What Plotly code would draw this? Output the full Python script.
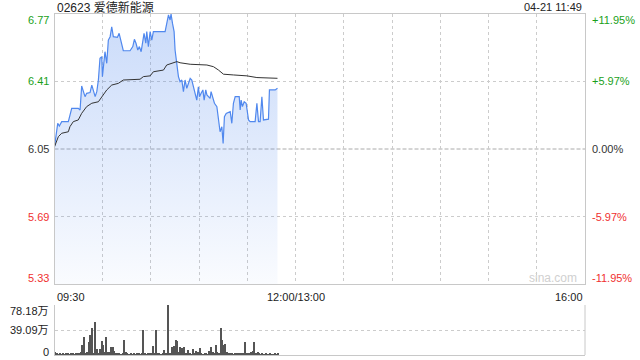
import plotly.graph_objects as go

# ---------------- data ----------------
title_text = "02623 爱德新能源"
stamp_text = "04-21 11:49"

# minutes after 09:30 (trading clock, lunch break removed)
price_min = [0, 2, 3, 4.5, 8.6, 9.6, 10.7, 14.8, 15.9, 16.9, 17.9, 19, 20, 22.1, 23.2, 24.2, 25.3, 26.3, 27.3,
             28.3, 29.4, 29.8, 30.8, 31.4, 32.5, 33.5, 34.6, 35.6, 36.6, 39.1, 40.2, 41.2, 42.8, 47, 48.7, 49.7,
             50.7, 51.8, 52.8, 53.9, 54.9, 55.7, 56.8, 57.4, 58.4, 59.5, 60.5, 61.5, 68.8, 69.8, 70.9, 71.9, 72.5,
             73.4, 74.4, 75, 76.1, 77.1, 78.1, 79.2, 80.2, 81.2, 82.3, 83.3, 84.4, 85.4, 86.4, 87.5, 88.5, 89.5,
             90.2, 91.2, 92.3, 93.1, 94.1, 94.8, 95.8, 96.8, 97.4, 98.5, 99.5, 101, 102, 103, 104.1, 104.9, 105.7,
             106.8, 109.3, 110.3, 111.3, 112.4, 114.9, 115.5, 116.1, 116.9, 118, 119.2, 120.7, 121.7, 124.8,
             125.9, 126.9, 127.9, 129, 130, 133.1, 133.7, 137.3, 138.7]
price = [6.062, 6.187, 6.173, 6.196, 6.196, 6.231, 6.267, 6.267, 6.258, 6.386, 6.356, 6.329, 6.347, 6.351,
         6.391, 6.356, 6.329, 6.356, 6.418, 6.534, 6.542, 6.436, 6.551, 6.569, 6.507, 6.631, 6.649, 6.702,
         6.649, 6.645, 6.667, 6.631, 6.574, 6.574, 6.596, 6.635, 6.614, 6.578, 6.596, 6.569, 6.631, 6.667,
         6.614, 6.676, 6.596, 6.676, 6.631, 6.676, 6.676, 6.729, 6.765, 6.738, 6.77, 6.72, 6.676, 6.578,
         6.507, 6.436, 6.409, 6.418, 6.356, 6.418, 6.374, 6.400, 6.427, 6.418, 6.382, 6.347, 6.311, 6.382,
         6.329, 6.347, 6.365, 6.311, 6.365, 6.338, 6.329, 6.320, 6.356, 6.329, 6.294, 6.276, 6.205, 6.142,
         6.169, 6.080, 6.222, 6.240, 6.249, 6.187, 6.294, 6.329, 6.329, 6.258, 6.311, 6.276, 6.302, 6.294,
         6.205, 6.196, 6.196, 6.294, 6.196, 6.196, 6.329, 6.205, 6.209, 6.365, 6.365, 6.374]

avg_min = [0, 2.4, 4.5, 8.6, 9.6, 11.7, 14.8, 16.9, 20, 23.2, 27.3, 29.4, 32.5, 35.6, 39.7, 42.8, 53.2, 55.3,
           59.5, 61.5, 67.8, 69.8, 73, 76.1, 78.1, 84.4, 94.8, 98.9, 102, 105.1, 111.3, 119.7, 125.9, 136.2, 138.7]
avg_price = [6.062, 6.116, 6.134, 6.142, 6.169, 6.196, 6.205, 6.240, 6.276, 6.294, 6.302, 6.329, 6.365, 6.391,
             6.400, 6.418, 6.422, 6.436, 6.440, 6.462, 6.471, 6.498, 6.507, 6.516, 6.51, 6.502, 6.498, 6.489,
             6.471, 6.449, 6.445, 6.440, 6.431, 6.427, 6.427]

# volume per minute, in 万 shares, minutes 0..139
volume = [5, 2, 1, 2, 1, 2, 1, 2, 2, 1, 3, 2, 1, 2, 2, 3,
          4, 15, 28, 3, 5, 20, 31, 42, 3, 52, 9, 3, 10, 22, 15, 4, 28, 4, 5, 12.5, 12.5, 6, 2, 2,
          3, 1, 2, 23.5, 5, 2, 1, 2, 1, 2, 1, 2, 2, 1, 2, 39, 2, 1, 2, 3,
          2, 14, 2, 39, 3, 2, 1, 2, 8, 2, 78.18, 3, 2, 12.5, 14, 23.5, 22, 4, 12.5, 11.5,
          12.5, 3, 2, 8, 2, 1, 9, 3, 6, 5, 10.4, 2, 1, 2, 2, 1, 6, 12.5, 4, 2,
          15.6, 5, 3, 42, 23.5, 15, 16.7, 4, 2, 3, 2, 1, 2, 3, 2, 2, 3, 2, 20, 3,
          3, 2, 4, 6, 20, 3, 5, 2, 1, 2, 1, 2, 1, 1, 2, 1, 1, 2, 1, 2]
vol_min = list(range(len(volume)))

price_ticks = [6.77, 6.41, 6.05, 5.69, 5.33]
price_tick_text = ["6.77", "6.41", "6.05", "5.69", "5.33"]
pct_tick_text = ["+11.95%", "+5.97%", "0.00%", "-5.97%", "-11.95%"]
tick_colors = ["#1a9f1a", "#1a9f1a", "#333333", "#f03030", "#f03030"]
vol_ticks = [78.18, 39.09, 0]
vol_tick_text = ["78.18万", "39.09万", "0"]
time_ticks = [0, 150, 330]
time_tick_text = ["09:30", "12:00/13:00", "16:00"]
grid_minutes = [30, 60, 90, 120, 150, 180, 210, 240, 270, 300]
prev_close = 6.05

# ---------------- layout helpers ----------------
W, H = 640, 360
PX_L, PX_R = 54.5, 585.0
P_TOP, P_BOT = 14.0, 284.0
V_TOP, V_BOT = 305.0, 355.0
FONT = "Liberation Sans, Arial, Noto Sans CJK SC, sans-serif"
GRID = "#cccccc"
BORDER = "#c8c8c8"


def fx(px):
    return px / W


def fy(py):
    return 1 - py / H


fig = go.Figure()

fig.add_trace(go.Scatter(
    x=price_min, y=price, mode="lines",
    line=dict(color="#5088ee", width=1.2),
    fill="tozeroy",
    fillgradient=dict(type="vertical", start=5.33, stop=6.77,
                      colorscale=[[0, "rgba(80,136,238,0.03)"], [0.6, "rgba(80,136,238,0.2)"],
                                  [1, "rgba(80,136,238,0.3)"]]),
    xaxis="x", yaxis="y", hoverinfo="skip", showlegend=False))

fig.add_trace(go.Scatter(
    x=avg_min, y=avg_price, mode="lines",
    line=dict(color="#333333", width=1),
    xaxis="x", yaxis="y", hoverinfo="skip", showlegend=False))

fig.add_trace(go.Bar(
    x=vol_min, y=volume, width=0.62,
    marker=dict(color="#555555", line=dict(width=0)),
    xaxis="x2", yaxis="y2", hoverinfo="skip", showlegend=False))

# previous close dashed line
fig.add_shape(type="line", xref="x", yref="y", x0=0, x1=330, y0=prev_close, y1=prev_close,
              line=dict(color="#aaaaaa", width=1, dash="4px,2px"), layer="below")

ann = []
ann.append(dict(text=title_text, x=fx(55), y=fy(7), xref="paper", yref="paper",
                xanchor="left", yanchor="middle", showarrow=False,
                font=dict(family=FONT, size=12, color="#222222")))
ann.append(dict(text=stamp_text, x=fx(584), y=fy(7), xref="paper", yref="paper",
                xanchor="right", yanchor="middle", showarrow=False,
                font=dict(family=FONT, size=11, color="#222222")))
n = len(price_ticks)
for i, (v, t, p, c) in enumerate(zip(price_ticks, price_tick_text, pct_tick_text, tick_colors)):
    shift = -6 if i == 0 else (6 if i == n - 1 else 0)
    ann.append(dict(text=t, x=fx(51), y=v, xref="paper", yref="y", yshift=shift,
                    xanchor="right", yanchor="middle", showarrow=False,
                    font=dict(family=FONT, size=11, color=c)))
    ann.append(dict(text=p, x=fx(590), y=v, xref="paper", yref="y", yshift=shift,
                    xanchor="left", yanchor="middle", showarrow=False,
                    font=dict(family=FONT, size=11, color=c)))
anchors = ["left", "center", "right"]
for v, t, a in zip(time_ticks, time_tick_text, anchors):
    ann.append(dict(text=t, x=v, y=fy(297), xref="x", yref="paper",
                    xanchor=a, yanchor="middle", showarrow=False,
                    font=dict(family=FONT, size=11, color="#222222")))
vshift = [-6, 0, 3]
for v, t, s in zip(vol_ticks, vol_tick_text, vshift):
    ann.append(dict(text=t, x=fx(51), y=v, xref="paper", yref="y2", yshift=s,
                    xanchor="right", yanchor="middle", showarrow=False,
                    font=dict(family=FONT, size=11, color="#222222")))
ann.append(dict(text="sina.com", x=fx(579), y=fy(278), xref="paper", yref="paper",
                xanchor="right", yanchor="middle", showarrow=False,
                font=dict(family=FONT, size=12, color="#d0d0d0")))

fig.update_layout(
    width=W, height=H, autosize=False,
    margin=dict(l=0, r=0, t=0, b=0, pad=0),
    paper_bgcolor="white", plot_bgcolor="white",
    annotations=ann,
    bargap=0,
    xaxis=dict(domain=[fx(PX_L), fx(PX_R)], range=[0, 330], tickvals=grid_minutes,
               showticklabels=False, ticks="", showgrid=True, gridcolor=GRID, griddash="dot",
               gridwidth=1, showline=True, mirror=True, linecolor=BORDER, linewidth=1,
               zeroline=False, fixedrange=True),
    yaxis=dict(domain=[fy(P_BOT), fy(P_TOP)], range=[5.33, 6.77], tickvals=[6.41, 5.69],
               showticklabels=False, ticks="", showgrid=True, gridcolor=GRID, griddash="dot",
               showline=True, mirror=True, linecolor=BORDER, linewidth=1, zeroline=False,
               fixedrange=True),
    xaxis2=dict(domain=[fx(PX_L), fx(PX_R)], range=[0, 330], anchor="y2",
                showticklabels=False, ticks="", showgrid=False,
                showline=True, mirror=False, linecolor=BORDER, zeroline=False, fixedrange=True),
    yaxis2=dict(domain=[fy(V_BOT), fy(V_TOP)], range=[0, 78.18], anchor="x2",
                tickvals=[39.09, 78.18], showticklabels=False, ticks="",
                showgrid=True, gridcolor=GRID, griddash="dot",
                showline=True, mirror=False, linecolor=BORDER, zeroline=False, fixedrange=True),
)
# right border of the volume panel
fig.add_shape(type="line", xref="paper", yref="paper", x0=fx(PX_R), x1=fx(PX_R),
              y0=fy(V_BOT), y1=fy(V_TOP), line=dict(color=BORDER, width=1))

fig.write_html("out.html")
